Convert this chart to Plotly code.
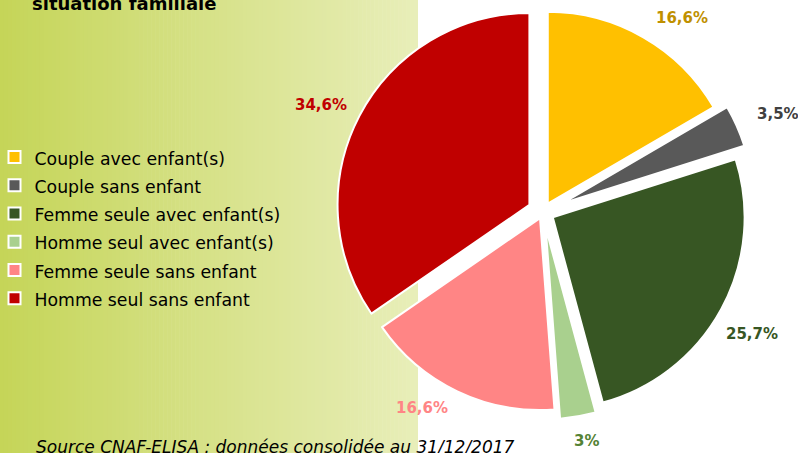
import plotly.graph_objects as go

# ---- data ----
categories = ["Couple avec enfant(s)", "Couple sans enfant", "Femme seule avec enfant(s)",
              "Homme seul avec enfant(s)", "Femme seule sans enfant", "Homme seul sans enfant"]
shares = [16.6, 3.5, 25.7, 3.0, 16.6, 34.6]
share_labels = ["16,6%", "3,5%", "25,7%", "3%", "16,6%", "34,6%"]
title_text = "situation familiale"
source_text = "Source CNAF-ELISA : données consolidée au 31/12/2017"

# ---- styles ----
W, H = 798, 453
slice_colors = ["#FFC000", "#595959", "#375623", "#A9D08E", "#FF8585", "#C00000"]
label_colors = ["#BF9000", "#404040", "#375623", "#548235", "#FF8585", "#C00000"]
pulls = [0.05, 0.105, 0.058, 0.081, 0.036, 0.08]
label_pos_px = [(682, 18.5), (777.5, 113.5), (752, 333.5), (586, 441), (422, 408), (321, 105)]

FONT = "DejaVu Sans"

def px_x(x):
    return x / W

def px_y(y):
    return 1 - y / H

# pie geometry (pixels)
cx, cy, half = 543, 212, 212
dom_x = [px_x(cx - half), px_x(cx + half)]
dom_y = [px_y(cy + half), px_y(cy - half)]

fig = go.Figure()
fig.add_trace(go.Pie(
    labels=[f'<span style="font-size:17.3px">{c}</span>' for c in categories],
    values=shares,
    sort=False,
    direction="clockwise",
    rotation=0,
    pull=pulls,
    marker=dict(colors=slice_colors, line=dict(color="white", width=2)),
    textinfo="none",
    hoverinfo="none",
    domain=dict(x=dom_x, y=dom_y),
    showlegend=True,
))

# background gradient (left panel)
c0 = (197, 213, 88)
c1 = (232, 238, 185)
n = 105
panel_w = 418
shapes = []
for i in range(n):
    t = i / (n - 1)
    col = tuple(round(a + (b - a) * t) for a, b in zip(c0, c1))
    x0 = panel_w * i / n
    x1 = panel_w * (i + 1) / n + 0.6
    shapes.append(dict(type="rect", xref="paper", yref="paper",
                       x0=px_x(x0), x1=px_x(min(x1, panel_w)), y0=0, y1=1,
                       fillcolor="rgb(%d,%d,%d)" % col, line=dict(width=0), layer="below"))

annotations = []
for txt, col, (lx, ly) in zip(share_labels, label_colors, label_pos_px):
    annotations.append(dict(text=f"<b>{txt}</b>", x=px_x(lx), y=px_y(ly), xref="paper", yref="paper",
                            xanchor="center", yanchor="middle", showarrow=False,
                            font=dict(family=FONT, size=15, color=col)))

annotations.append(dict(text=f"<b>{title_text}</b>", x=px_x(30), y=px_y(3), xref="paper", yref="paper",
                        xanchor="left", yanchor="middle", showarrow=False,
                        font=dict(family=FONT, size=18, color="#000000")))
annotations.append(dict(text=f"<i>{source_text}</i>", x=px_x(34), y=px_y(447), xref="paper", yref="paper",
                        xanchor="left", yanchor="middle", showarrow=False,
                        font=dict(family=FONT, size=17, color="#000000")))

fig.update_layout(
    width=W, height=H,
    margin=dict(l=0, r=0, t=0, b=0, autoexpand=False),
    paper_bgcolor="white", plot_bgcolor="white",
    shapes=shapes,
    annotations=annotations,
    legend=dict(x=px_x(-5.5), y=px_y(138), xanchor="left", yanchor="top",
                bgcolor="rgba(0,0,0,0)", borderwidth=0,
                font=dict(family=FONT, size=19.4, color="#000000"),
                traceorder="normal"),
)

fig.write_html("out.html", config={"displayModeBar": False},
               post_script="document.body.style.margin='0';document.body.style.overflow='hidden';")
